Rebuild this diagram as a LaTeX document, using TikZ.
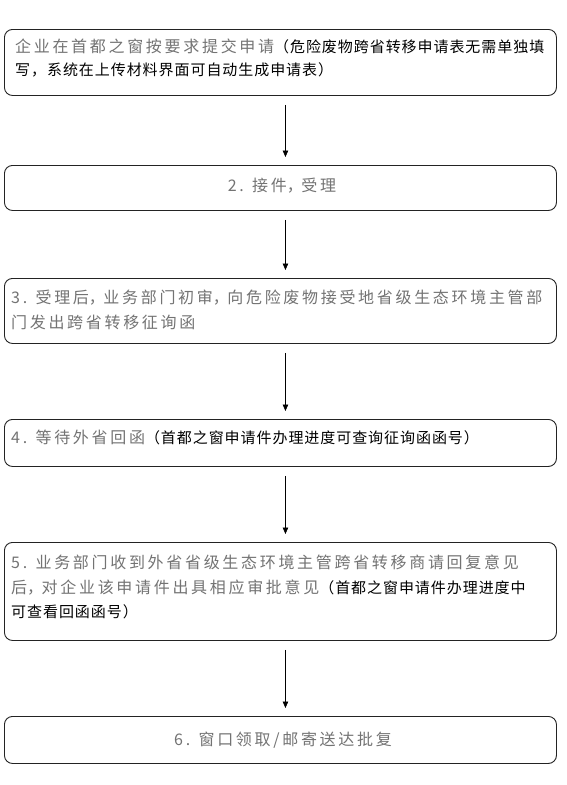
\documentclass[tikz,border=0pt]{standalone}
\usepackage{fontspec}
\usetikzlibrary{arrows.meta}
\newfontfamily\cjkgray[LetterSpace=16.8]{Noto Sans CJK SC}
\newfontfamily\cjkblack[LetterSpace=6.3]{Noto Sans CJK SC}
\definecolor{txtgray}{RGB}{115,115,115}
\definecolor{boxline}{RGB}{35,35,35}
\newcommand\gtxt[1]{{\cjkgray\fontsize{16}{25}\selectfont\color{txtgray}#1}}
\newcommand\btxt[1]{{\cjkblack\fontsize{15}{25}\selectfont\color{black}#1}}
\newcommand\gcomma{\makebox[14.5pt][l]{，}}
\tikzset{
  stepbox/.style={draw=boxline, line width=0.9pt, rounded corners=8pt, minimum width=552pt, anchor=north west, inner sep=0pt},
  steptext/.style={inner sep=0pt, align=left, font=\fontsize{16}{25}\selectfont},
  flowarrow/.style={draw=black, line width=0.7pt, -{Triangle[length=6.5pt,width=5.5pt]}, shorten <=9pt, shorten >=8pt}
}
\begin{document}
\begin{tikzpicture}[x=1pt,y=-1pt]
\useasboundingbox[fill=white] (0,0) rectangle (567,785);
% boxes
\node[stepbox, minimum height=66pt] (b1) at (4,29) {};
\node[stepbox, minimum height=45pt] (b2) at (4,165) {};
\node[stepbox, minimum height=65pt] (b3) at (4,278) {};
\node[stepbox, minimum height=47pt] (b4) at (4,419) {};
\node[stepbox, minimum height=98pt] (b5) at (4,542) {};
\node[stepbox, minimum height=47pt] (b6) at (4,716) {};
% texts
\node[steptext, anchor=north west] (t1) at (15,39) {\gtxt{企业在首都之窗按要求提交申请}\btxt{（危险废物跨省转移申请表无需单独填}\\[-2pt]\btxt{写，系统在上传材料界面可自动生成申请表）}};
\node[steptext, anchor=center] (t2) at (282,186) {\gtxt{2. 接件\gcomma 受理}};
\node[steptext, anchor=north west] (t3) at (11,290) {\gtxt{3. 受理后\gcomma 业务部门初审\gcomma 向危险废物接受地省级生态环境主管部}\\\gtxt{门发出跨省转移征询函}};
\node[steptext, anchor=west] (t4) at (11,437) {\gtxt{4. 等待外省回函}\btxt{（首都之窗申请件办理进度可查询征询函函号）}};
\node[steptext, anchor=north west] (t5) at (11,555) {\gtxt{5. 业务部门收到外省省级生态环境主管跨省转移商请回复意见}\\\gtxt{后\gcomma 对企业该申请件出具相应审批意见}\btxt{（首都之窗申请件办理进度中}\\[-1pt]\btxt{可查看回函函号）}};
\node[steptext, anchor=center] (t6) at (283,740) {\gtxt{6. 窗口领取/邮寄送达批复}};
% arrows
\draw[flowarrow] ([xshift=5pt]b1.south) -- ([xshift=5pt]b2.north);
\draw[flowarrow] ([xshift=5pt]b2.south) -- ([xshift=5pt]b3.north);
\draw[flowarrow] ([xshift=5pt]b3.south) -- ([xshift=5pt]b4.north);
\draw[flowarrow] ([xshift=5pt]b4.south) -- ([xshift=5pt]b5.north);
\draw[flowarrow] ([xshift=5pt]b5.south) -- ([xshift=5pt]b6.north);
\end{tikzpicture}
\end{document}
